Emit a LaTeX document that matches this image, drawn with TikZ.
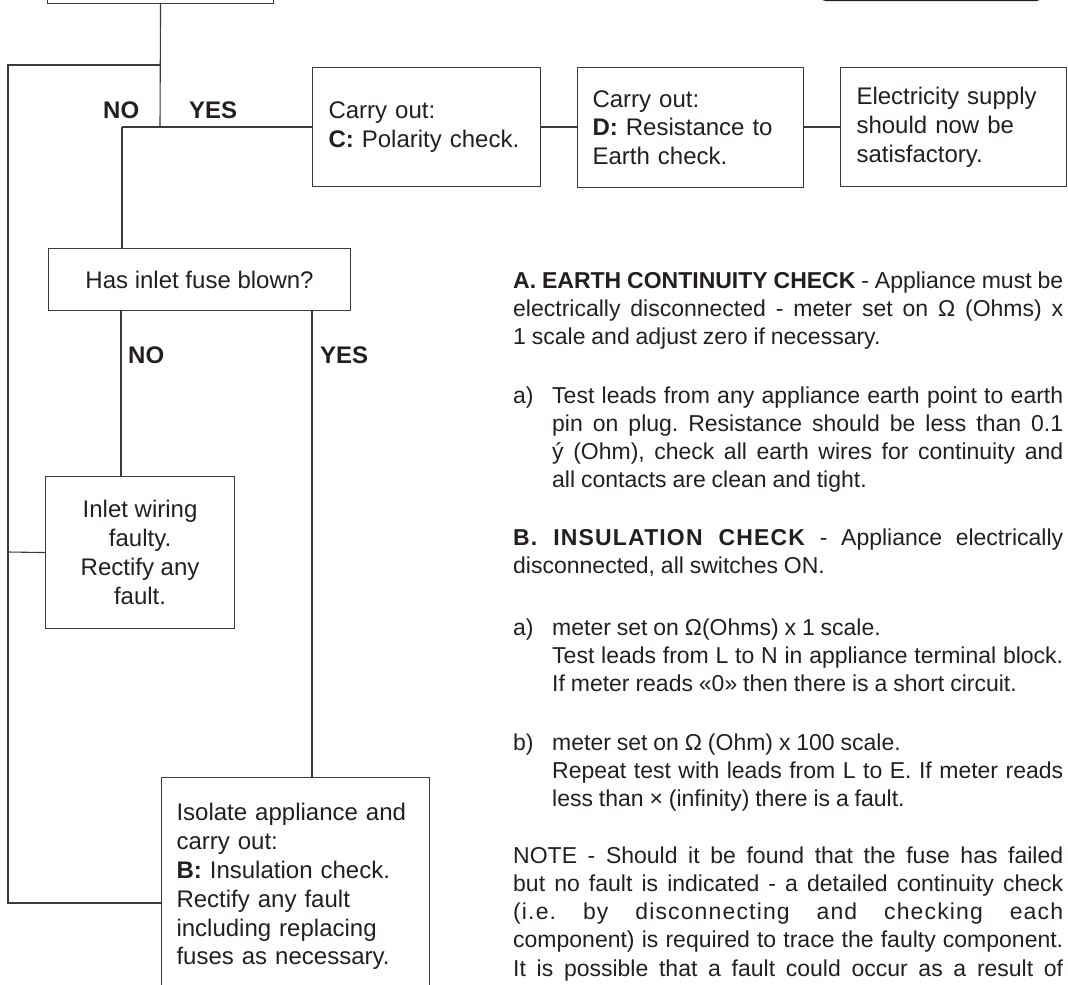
\documentclass[tikz,border=0pt]{standalone}
\usepackage{fontspec}
\setmainfont{Liberation Sans}
\newfontfamily\notefamily[WordSpace={0.92,1,1.8}]{Liberation Sans}
\usetikzlibrary{calc}
\definecolor{ink}{HTML}{231F20}
\definecolor{wire}{HTML}{3A3A3A}
\newcommand\flowsize{\fontsize{24}{28.8}\selectfont}
\newcommand\notesize{\notefamily\fontsize{23}{28.3}\selectfont}
\newcommand\spaced[1]{{\addfontfeatures{LetterSpace=5}#1}}
\hyphenpenalty=10000
\exhyphenpenalty=10000
\tolerance=9999
\frenchspacing

\begin{document}
\begin{tikzpicture}[x=1pt,y=-1pt,
    box/.style={draw=wire, line width=1.1pt, text=ink, font=\flowsize, inner sep=0pt},
    flowlbl/.style={anchor=base west, inner sep=0pt, text=ink, font=\flowsize\bfseries},
    para/.style={anchor=base west, inner sep=0pt, text=ink, font=\notesize, align=justify, text width=#1},
    itemlbl/.style={anchor=base west, inner sep=0pt, text=ink, font=\notesize},
    wireline/.style={draw=wire, line width=1.1pt}]
    \useasboundingbox (0,0) rectangle (1068,985);
    \clip (0,0) rectangle (1068,985);

    % boxes of the chart
    \node[box, anchor=south west, minimum width=226pt, minimum height=60pt] (start) at (47,4) {};
    \node[box, draw=ink, line width=2.2pt, rounded corners=6pt, anchor=south west,
        minimum width=222pt, minimum height=60pt] (key) at (819,1) {};
    \node[box, anchor=north west, text width=196pt, inner xsep=16pt, minimum height=119pt, align=left]
        (polar) at (312,67) {Carry out:\\\textbf{C:} Polarity check.};
    \node[box, anchor=north west, text width=195.5pt, inner xsep=15.5pt, minimum height=120pt, align=left]
        (earthres) at (576.5,67) {Carry out:\\\textbf{D:} Resistance to\\Earth check.};
    \node[box, anchor=north west, text width=193.5pt, inner xsep=16pt, minimum height=119pt, align=left]
        (supply) at (840,67) {Electricity supply\\should now be\\satisfactory.};
    \node[box, anchor=north west, minimum width=302pt, minimum height=62pt]
        (fuse) at (48,248) {Has inlet fuse blown?};
    \node[box, anchor=north west, minimum width=189pt, minimum height=152pt, align=center]
        (inlet) at (45,476) {Inlet wiring\\faulty.\\Rectify any\\fault.};
    \node[box, anchor=north west, text width=238pt, inner xsep=15pt, inner ysep=26pt, align=left]
        (isolate) at (161,777) {Isolate appliance and\\carry out:\\\textbf{B:} Insulation check.\\Rectify any fault\\including replacing\\fuses as necessary.};

    % connectors
    \coordinate (split) at (160,65);
    \coordinate (yesturn) at (160,127);
    \coordinate (fork) at (122,127);
    \coordinate (railtop) at (8,65);
    \coordinate (railmid) at (8,552);
    \coordinate (railbot) at (8,903);
    \coordinate (nox) at (121,0);
    \coordinate (yesx) at (312,0);

    \draw[wireline] (start.south) -- (yesturn);
    \draw[wireline] (split) -- (railtop) -- (railbot) -- (railbot -| isolate.west);
    \draw[wireline] (railmid) -- (inlet.west);
    \draw[wireline] (fork) -- (fork -| polar.west);
    \draw[wireline] (fork) -- (fork |- fuse.north);
    \draw[wireline] (polar.east |- fork) -- (earthres.west |- fork);
    \draw[wireline] (earthres.east |- fork) -- (supply.west |- fork);
    \draw[wireline] (fuse.south -| nox) -- (inlet.north -| nox);
    \draw[wireline] (fuse.south -| yesx) -- (isolate.north -| yesx);

    \node[flowlbl] (no1) at (103,118) {NO};
    \node[flowlbl] (yes1) at (189,118) {YES};
    \node[flowlbl] (no2) at (128,363) {NO};
    \node[flowlbl] (yes2) at (320,363) {YES};

    % notes on the right
    \node[para=550pt] (earthchk) at (513,288) {\textbf{A. EARTH CONTINUITY CHECK} - Appliance must be\linebreak
        electrically disconnected - meter set on Ω (Ohms) x\linebreak
        1 scale and adjust zero if necessary.};
    \node[itemlbl] (earthlbl) at (513,403) {a)};
    \node[para=511pt] (earthtest) at (552,403) {Test leads from any appliance earth point to earth\linebreak
        pin on plug. Resistance should be less than 0.1\linebreak
        ý (Ohm), check all earth wires for continuity and\linebreak
        all contacts are clean and tight.};
    \node[para=550pt] (insulchk) at (513,545) {\textbf{\spaced{B. INSULATION CHECK}} - Appliance electrically\linebreak
        disconnected, all switches ON.};
    \node[itemlbl] (insullbla) at (513,635) {a)};
    \node[para=511pt] (insultesta) at (552,635) {meter set on Ω(Ohms) x 1 scale.\newline
        Test leads from L to N in appliance terminal block.\linebreak
        If meter reads «0» then there is a short circuit.};
    \node[itemlbl] (insullblb) at (513,750) {b)};
    \node[para=511pt] (insultestb) at (552,750) {meter set on Ω (Ohm) x 100 scale.\newline
        Repeat test with leads from L to E. If meter reads\linebreak
        less than × (infinity) there is a fault.};
    \node[para=550pt] (note) at (513,863) {NOTE - Should it be found that the fuse has failed\linebreak
        but no fault is indicated - a detailed continuity check\linebreak
        \spaced{(i.e. by disconnecting and checking each}\linebreak
        component) is required to trace the faulty component.\linebreak
        \makebox[\linewidth][s]{It is possible that a fault could occur as a result of}};
\end{tikzpicture}
\end{document}
